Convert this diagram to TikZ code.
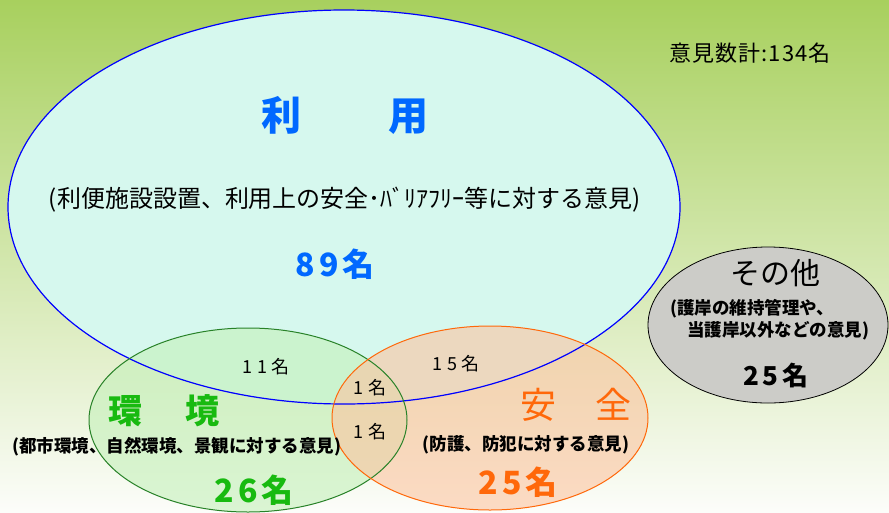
\documentclass[tikz,border=0pt]{standalone}
\usepackage{fontspec}
\setmainfont{Noto Sans CJK JP}
\usetikzlibrary{positioning}
\definecolor{bgtop}{RGB}{168,208,94}
\definecolor{bgmid}{RGB}{214,234,186}
\definecolor{bgbot}{RGB}{252,253,250}
\definecolor{usefill}{RGB}{214,248,238}
\definecolor{envfill}{RGB}{196,240,186}
\definecolor{safefill}{RGB}{252,196,160}
\definecolor{othfill}{RGB}{204,204,200}
\definecolor{useblue}{RGB}{0,104,255}
\definecolor{envgreen}{RGB}{24,186,16}
\definecolor{envline}{RGB}{40,130,40}
\definecolor{safeorange}{RGB}{255,104,10}

\begin{document}
\begin{tikzpicture}[x=1pt, y=-1pt,
    every node/.style={inner sep=0pt},
    title/.style={font=\bfseries\fontsize{40}{40}\selectfont},
    count/.style={font=\bfseries\fontsize{32}{32}\selectfont\addfontfeatures{LetterSpace=12}},
    note/.style={font=\bfseries\fontsize{17.5}{17.5}\selectfont},
    part/.style={font=\fontsize{18}{18}\selectfont\addfontfeatures{LetterSpace=25}}]
    \useasboundingbox (0,0) rectangle (889,512);
    % Background
    \shade[top color=bgtop, middle color=bgmid, bottom color=bgbot] (0,0) rectangle (889,512);

    % Fills
    \fill[usefill] (344,207) ellipse (336 and 197);
    \fill[othfill] (768,325) ellipse (120 and 78);
    \fill[envfill, fill opacity=0.6] (248,420) ellipse (159 and 92);
    \fill[safefill, fill opacity=0.6] (490,418) ellipse (158 and 92);

    % Outlines
    \draw[blue, line width=1.2pt] (344,207) ellipse (336 and 197);
    \draw[black, line width=0.8pt] (768,325) ellipse (120 and 78);
    \draw[envline, line width=1pt] (248,420) ellipse (159 and 92);
    \draw[safeorange, line width=1pt] (490,418) ellipse (158 and 92);

    % Total
    \node[font=\fontsize{22}{22}\selectfont\addfontfeatures{LetterSpace=5}] (total) at (750,53) {意見数計:134名};

    % Use
    \node[title, useblue] (usetitle) at (345,115) {利\hspace{2.2em}用};
    \node[font=\fontsize{24}{24}\selectfont] (usenote) at (345,200) {(利便施設設置、利用上の安全･ﾊﾞﾘｱﾌﾘｰ等に対する意見)};
    \node[count, useblue] (usecount) at (335,264) {89名};

    % Others
    \node[font=\fontsize{30}{30}\selectfont] (othtitle) at (775,273) {その他};
    \node[note] (othnote1) at (752,309) {(護岸の維持管理や、};
    \node[note] (othnote2) at (778,331) {当護岸以外などの意見)};
    \node[count, font=\bfseries\fontsize{26}{26}\selectfont\addfontfeatures{LetterSpace=15}] (othcount) at (776,376) {25名};

    % Overlaps
    \node[part] (useenv) at (266,367) {11名};
    \node[part] (usesafe) at (456,364) {15名};
    \node[part] (allthree) at (370,388) {1名};
    \node[part] (envsafe) at (370,432) {1名};

    % Environment
    \node[title, envgreen, font=\bfseries\fontsize{34}{34}\selectfont] (envtitle) at (164,411) {環\hspace{1.25em}境};
    \node[note] (envnote) at (177,447) {(都市環境、自然環境、景観に対する意見)};
    \node[count, envgreen] (envcount) at (254,490) {26名};

    % Safety
    \node[safeorange, font=\fontsize{36}{36}\selectfont] (safetitle) at (576,405) {安\hspace{1.1em}全};
    \node[note] (safenote) at (526,445) {(防護、防犯に対する意見)};
    \node[count, safeorange] (safecount) at (518,482) {25名};
\end{tikzpicture}
\end{document}
